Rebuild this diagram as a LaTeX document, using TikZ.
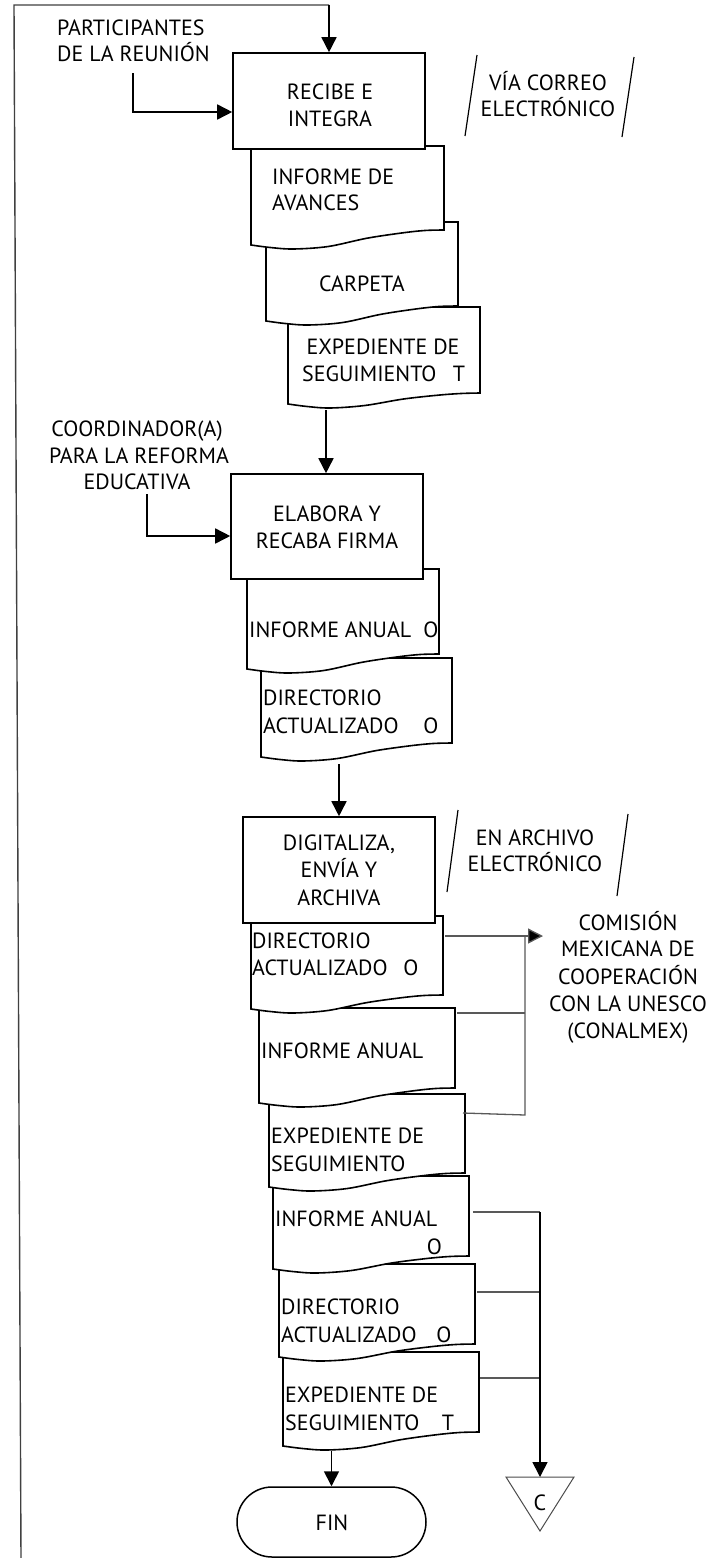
\documentclass[tikz,border=0pt]{standalone}
\usepackage{fontspec}
\setmainfont{PT Sans}
\usetikzlibrary{arrows.meta,calc}
\tikzset{
  boxst/.style={draw, line width=1.6pt, fill=white, inner sep=0pt},
  docst/.style={draw, line width=1.6pt, fill=white},
  tx/.style={font=\fontsize{22}{27}\selectfont, inner sep=0pt},
  arr/.style={line width=1.6pt, -{Triangle[length=15pt,width=15pt]}},
  gl/.style={draw=black!65, line width=1.3pt},
  loopln/.style={draw=black!75, line width=1.4pt},
  slash/.style={line width=1.2pt},
}
% name, L, T, R, y right-bottom, y left-bottom
\newcommand\docshp[6]{%
  \path[docst] (#2,#3) -- (#4,#3) -- plot[smooth,tension=0.55] coordinates {
     (#4,#5)
     ({#2+0.9*(#4-#2)},{#5+0.5})
     ({#2+0.78*(#4-#2)},{#5+0.2*(#6-#5)})
     ({#2+0.6*(#4-#2)},{#5+0.55*(#6-#5)})
     ({#2+0.4*(#4-#2)},{#6+1.5})
     ({#2+0.22*(#4-#2)},{#6+4})
     ({#2+0.1*(#4-#2)},{#6+2.5})
     (#2,#6)} -- cycle;
  \coordinate (#1) at ({(#2+#4)/2},{(#3+#6)/2});}
% name, anchor, x, cap-centre y, text
\newcommand\tl[5]{\node[tx, anchor=#2] (#1) at (#3,{#4+8}) {#5};}
\begin{document}
\begin{tikzpicture}[x=1pt,y=-1pt]
\useasboundingbox (0,0) rectangle (721,1558);
\fill[white] (0,0) rectangle (721,1558);

% ---------- first stack ----------
\docshp{doc3}{288}{307}{480}{393}{404}
\docshp{doc2}{266}{222}{458}{306}{321}
\docshp{doc1}{251}{146}{444}{230}{245}
\node[boxst, minimum width=192pt, minimum height=96pt] (box1) at (329,101) {};

% ---------- second stack ----------
\docshp{doc5}{261}{658}{452}{743}{757}
\docshp{doc4}{247}{569}{439}{654}{669}
\node[boxst, minimum width=192pt, minimum height=105pt] (box2) at (327,526.5) {};

% ---------- third stack ----------
\docshp{doc11}{283}{1352}{479}{1432}{1446}
\docshp{doc10}{279}{1264}{475}{1344}{1357}
\docshp{doc9}{273}{1176}{469}{1256}{1269}
\docshp{doc8}{269}{1094}{465}{1173}{1187}
\docshp{doc7}{259}{1008}{455}{1088}{1103}
\docshp{doc6}{251}{916}{443}{995}{1009}
\node[boxst, minimum width=192pt, minimum height=106pt] (box3) at (339,870) {};

\node[draw, line width=1.5pt, rounded corners=35pt, minimum width=189pt, minimum height=70pt, inner sep=0pt] (fin) at (331.5,1522) {};

% triangle connector
\coordinate (ctri) at (540,1477);
\draw[draw=black!70, line width=1pt] (506,1477) -- (574,1477) -- (540,1531) -- cycle;

% ---------- slashes ----------
\coordinate (s1a) at (477,55); \coordinate (s1b) at (465,136);
\coordinate (s2a) at (634,57); \coordinate (s2b) at (622,137);
\coordinate (s3a) at (458,810); \coordinate (s3b) at (447,892);
\coordinate (s4a) at (628,814); \coordinate (s4b) at (617,896);
\draw[slash] (s1a) -- (s1b);
\draw[slash] (s2a) -- (s2b);
\draw[slash] (s3a) -- (s3b);
\draw[slash] (s4a) -- (s4b);

% ---------- connectors ----------
\coordinate (loopend) at (21,1558);
\coordinate (looptop) at (14,5);
\draw[loopln] (loopend) -- (looptop) -- (looptop -| box1.north);
\draw[arr] (looptop -| box1.north) -- (box1.north);

\coordinate (p1) at (133,73);
\draw[arr] (p1) |- ([yshift=-11pt]box1.west);
\coordinate (p2) at (147,494);
\draw[arr] (p2) |- ([yshift=-9.5pt]box2.west);

\coordinate (d3b) at (326,410);
\draw[arr] (d3b) -- (d3b |- box2.north);
\coordinate (d5b) at (339,764);
\draw[arr] (d5b) -- (box3.north);
\coordinate (d11b) at (331.5,1451);
\draw[arr] (d11b) -- (fin.north);

\coordinate (r6) at (445,936);
\coordinate (r7) at (457,1013);
\coordinate (r8) at (463,1113);
\coordinate (bust) at (525,936);
\coordinate (busb) at (525,1115);
\coordinate (cmt) at (543,936);
\draw[gl] (r6) -- (bust);
\draw[gl] (r7) -- (r7 -| bust);
\draw[gl] (r8) -- (busb) -- (bust);
\draw[line width=1.3pt, draw=black!65, -{Triangle[length=15pt,width=15pt,fill=black]}] (bust) -- (cmt);

\coordinate (r9) at (473,1212);
\coordinate (r10) at (477,1292);
\coordinate (r11) at (480,1378);
\draw[gl] (r9) -- (r9 -| ctri);
\draw[gl] (r10) -- (r10 -| ctri);
\draw[gl] (r11) -- (r11 -| ctri);
\draw[arr] (r9 -| ctri) -- (ctri);

% ---------- texts ----------
\tl{ta1}{base west}{57}{27}{PARTICIPANTES}
\tl{ta2}{base west}{57}{53}{DE LA REUNIÓN}
\tl{tb1}{base}{548}{82}{VÍA CORREO}
\tl{tb2}{base}{548}{108}{ELECTRÓNICO}
\tl{tc1}{base}{330}{91}{RECIBE E}
\tl{tc2}{base}{330}{118}{INTEGRA}
\tl{td1}{base west}{272}{176}{INFORME DE}
\tl{td2}{base west}{272}{202}{AVANCES}
\tl{te1}{base}{362}{283}{CARPETA}
\tl{tf1}{base}{383}{346}{EXPEDIENTE DE}
\tl{tf2}{base west}{302}{373}{SEGUIMIENTO}
\tl{tf3}{base}{459}{373}{T}
\tl{tg1}{base}{137}{428}{COORDINADOR(A)}
\tl{tg2}{base}{139}{455}{PARA LA REFORMA}
\tl{tg3}{base}{137}{481}{EDUCATIVA}
\tl{th1}{base}{327}{513}{ELABORA Y}
\tl{th2}{base}{327}{540}{RECABA FIRMA}
\tl{ti1}{base west}{249}{629}{INFORME ANUAL}
\tl{ti2}{base}{431}{629}{O}
\tl{tj1}{base west}{263}{697}{DIRECTORIO}
\tl{tj2}{base west}{263}{725}{ACTUALIZADO}
\tl{tj3}{base}{431}{725}{O}
\tl{tk1}{base}{339}{842}{DIGITALIZA,}
\tl{tk2}{base}{339}{869}{ENVÍA Y}
\tl{tk3}{base}{339}{897}{ARCHIVA}
\tl{tl1}{base}{535}{837}{EN ARCHIVO}
\tl{tl2}{base}{535}{863}{ELECTRÓNICO}
\tl{tm1}{base west}{252}{940}{DIRECTORIO}
\tl{tm2}{base west}{252}{967}{ACTUALIZADO}
\tl{tm3}{base}{411}{967}{O}
\tl{tn1}{base}{628}{922}{COMISIÓN}
\tl{tn2}{base}{628}{948}{MEXICANA DE}
\tl{tn3}{base}{628}{976}{COOPERACIÓN}
\tl{tn4}{base}{628}{1003}{CON LA UNESCO}
\tl{tn5}{base}{628}{1030}{(CONALMEX)}
\tl{to1}{base west}{261}{1050}{INFORME ANUAL}
\tl{tp1}{base west}{271}{1135}{EXPEDIENTE DE}
\tl{tp2}{base west}{271}{1163}{SEGUIMIENTO}
\tl{tq1}{base west}{275}{1218}{INFORME ANUAL}
\tl{tq2}{base}{434.5}{1246}{O}
\tl{tr1}{base west}{281}{1306}{DIRECTORIO}
\tl{tr2}{base west}{281}{1334}{ACTUALIZADO}
\tl{tr3}{base}{444}{1334}{O}
\tl{ts1}{base west}{285}{1394}{EXPEDIENTE DE}
\tl{ts2}{base west}{285}{1422}{SEGUIMIENTO}
\tl{ts3}{base}{448}{1422}{T}
\tl{tt1}{base}{332}{1522}{FIN}
\tl{tu1}{base}{540}{1502}{C}
\end{tikzpicture}
\end{document}
